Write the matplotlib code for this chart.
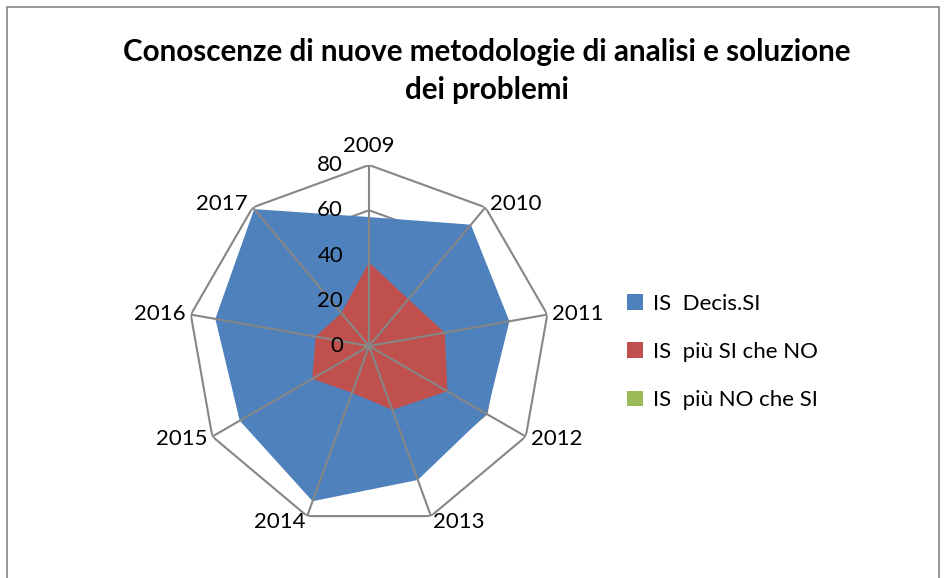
import numpy as np
import matplotlib.pyplot as plt
from matplotlib.patches import Patch, Rectangle

plt.rcParams['font.family'] = ['Lato', 'DejaVu Sans']

# Data
years = ['2009', '2010', '2011', '2012', '2013', '2014', '2015', '2016', '2017']
decis_si = [57, 70, 63, 60, 63, 73, 66, 69, 79]
piu_si_che_no = [37, 27, 34, 40, 30, 22, 29, 24, 19]
piu_no_che_si = [2, 0, 0, 0, 0, 1, 2, 3, 1]
series_names = ['IS  Decis.SI', 'IS  più SI che NO', 'IS  più NO che SI']
series_colors = ['#4F81BD', '#C0504D', '#9BBB59']
rings = [20, 40, 60, 80]
grid_col = '#868686'

fig = plt.figure(figsize=(9.44, 5.78), dpi=100)
ax = fig.add_axes([0.1992, 0.0882, 0.3835, 0.6263], projection='polar')
ax.set_theta_zero_location('N')
ax.set_theta_direction(-1)

n = len(years)
theta = np.arange(n) * 2 * np.pi / n
theta_c = np.append(theta, theta[0])

# polygon gridlines behind the series
for r in rings:
    ax.plot(theta_c, [r] * (n + 1), color=grid_col, lw=1.5, zorder=1)

# series (drawn in order, later on top)
for vals, col in zip([decis_si, piu_si_che_no, piu_no_che_si], series_colors):
    v = np.append(vals, vals[0])
    ax.fill(theta_c, v, color=col, lw=0, zorder=2)

# spokes on top
for t in theta:
    ax.plot([t, t], [0, rings[-1]], color=grid_col, lw=1.5, zorder=3)

ax.set_ylim(0, 80)
ax.grid(False)
ax.spines['polar'].set_visible(False)
ax.set_xticks([])
ax.set_yticks([])
ax.patch.set_visible(False)

# radial value labels
for r in [0] + rings:
    ax.annotate(str(r), xy=(0, r), xytext=(-26, 0), textcoords='offset pixels',
                ha='right', va='center', fontsize=16, annotation_clip=False, zorder=4)

# category labels
for t, lab in zip(theta, years):
    s, c = np.sin(t), np.cos(t)
    if abs(s) < 0.1:
        ha, dx, dy, va = 'center', 0, 9, 'bottom'
    else:
        ha = 'left' if s > 0 else 'right'
        dx = 5 * np.sign(s) if abs(s) > 0.5 else 2 * np.sign(s)
        dy = 5 * c if c > -0.8 else -6
        va = 'center'
    ax.annotate(lab, xy=(t, 80), xytext=(dx, dy), textcoords='offset pixels',
                ha=ha, va=va, fontsize=16, annotation_clip=False)

fig.text(0.5154, 0.877, 'Conoscenze di nuove metodologie di analisi e soluzione\ndei problemi',
         ha='center', va='center', fontsize=21.3, fontweight='bold', linespacing=1.45)

handles = [Patch(facecolor=c, edgecolor='none') for c in series_colors]
fig.legend(handles, series_names, loc='center left', bbox_to_anchor=(0.643, 0.391),
           frameon=False, fontsize=16, handlelength=0.7, handleheight=0.7,
           handletextpad=0.45, labelspacing=1.28)

fig.patches.append(Rectangle((7 / 944, -0.1), 932 / 944, 1.1 - 7 / 578,
                             transform=fig.transFigure, fill=False,
                             edgecolor='#868686', lw=1.2))

plt.savefig('out.png', dpi=100)
